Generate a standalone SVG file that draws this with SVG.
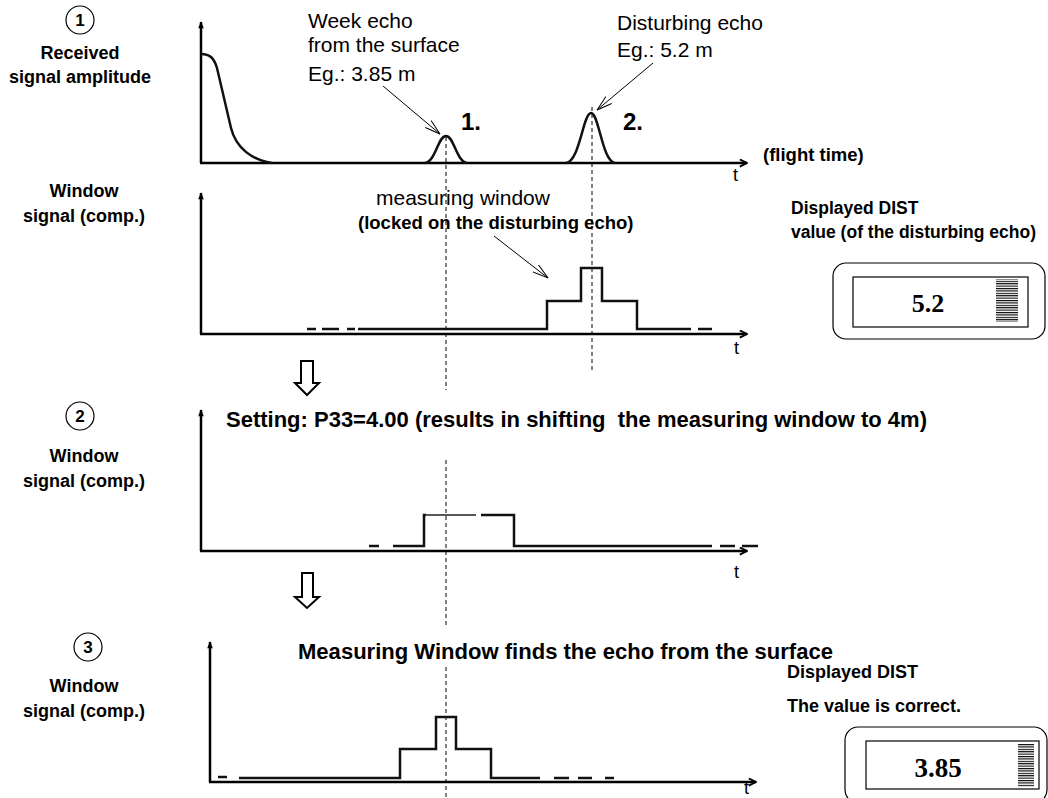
<svg xmlns="http://www.w3.org/2000/svg" width="1048" height="798" viewBox="0 0 1048 798">
<style>
.ax{stroke:#000;stroke-width:2.5;fill:none}
.sig{stroke:#111;stroke-width:2.5;fill:none;stroke-linejoin:miter}
.thin{stroke:#222;stroke-width:1.5;fill:none}
.dash{stroke:#000;stroke-width:1;stroke-dasharray:4 3;fill:none}
.ann{stroke:#000;stroke-width:1;fill:none}
.blk{stroke:#000;stroke-width:2;fill:#fff;stroke-linejoin:miter}
.box{stroke:#000;stroke-width:1.2;fill:#fff}
.lbl{font-family:"Liberation Sans",Arial,sans-serif;font-weight:bold;font-size:18px;text-anchor:middle;fill:#000}
.b{font-family:"Liberation Sans",Arial,sans-serif;font-weight:bold;fill:#000}
.r{font-family:"Liberation Sans",Arial,sans-serif;font-size:21px;fill:#000}
.t{font-family:"Liberation Sans",Arial,sans-serif;font-size:18px;fill:#000}
.num{font-family:"Liberation Serif","Times New Roman",serif;font-weight:bold;text-anchor:middle;fill:#000}
.circ{stroke:#000;stroke-width:1.2;fill:#fff}
</style>
<defs>
<marker id="ya" viewBox="0 0 10 10" refX="9" refY="5" markerWidth="10" markerHeight="7" markerUnits="userSpaceOnUse" orient="auto"><path d="M0,1 L10,5 L0,9 Z" fill="#000"/></marker>
<marker id="xa" viewBox="0 0 10 10" refX="9" refY="5" markerWidth="9" markerHeight="9" markerUnits="userSpaceOnUse" orient="auto"><path d="M1,1 L9,5 L1,9" fill="none" stroke="#000" stroke-width="2"/></marker>
<marker id="oa" viewBox="0 0 16 10" refX="15.5" refY="5" markerWidth="16" markerHeight="10" markerUnits="userSpaceOnUse" orient="auto"><path d="M0,0.5 L15.5,5 L0,9.5" fill="none" stroke="#000" stroke-width="1"/></marker>
<pattern id="stripes" patternUnits="userSpaceOnUse" width="4" height="2.4"><rect width="4" height="1.1" fill="#000"/></pattern>
</defs>

<g id="connectors">
<path class="dash" d="M446,137 V390 M446,460 V625 M446,667 V797"/>
<path class="dash" d="M592,107 V372"/>
<path class="ann" d="M383,86 L440,134" marker-end="url(#oa)"/>
<path class="ann" d="M653,63 L597,110" marker-end="url(#oa)"/>
<path class="ann" d="M494,236 L548,278" marker-end="url(#oa)"/>
<path class="blk" d="M301,361 H313 V383 H319 L307,395 L295,383 H301 Z"/>
<path class="blk" d="M302,573 H313 V597 H319 L307,608 L295,597 H302 Z"/>
</g>

<g id="sec1-label">
<circle class="circ" cx="80" cy="20" r="14"/>
<text class="b" x="80" y="26" font-size="17" text-anchor="middle">1</text>
<text class="lbl" x="80" y="59">Received</text>
<text class="lbl" x="80" y="83">signal amplitude</text>
</g>

<g id="graph1">
<line class="ax" x1="201" y1="163" x2="201" y2="22" marker-end="url(#ya)"/>
<line class="ax" x1="200" y1="163" x2="747" y2="163" marker-end="url(#xa)"/>
<path class="sig" d="M201,54 C210,54 214,58 217,68 L231,128 C236,148 252,160 272,163"/>
<path class="sig" d="M425,163 C436,161 438,136 446,136 C454,136 456,161 467,163"/>
<path class="sig" d="M566,163 C580,161 583,113 591,113 C599,113 602,161 615,163"/>
<text class="t" x="733" y="181">t</text>
<text class="r" x="308" y="28">Week echo</text>
<text class="r" x="308" y="52">from the surface</text>
<text class="r" x="308" y="81">Eg.: 3.85 m</text>
<text class="r" x="617" y="30">Disturbing echo</text>
<text class="r" x="617" y="57">Eg.: 5.2 m</text>
<text class="b" x="461" y="130" font-size="24">1.</text>
<text class="b" x="623" y="130" font-size="24">2.</text>
<text class="b" x="763" y="161" font-size="18.5">(flight time)</text>
</g>

<g id="sec1-window-label">
<text class="lbl" x="84" y="197">Window</text>
<text class="lbl" x="84" y="222">signal (comp.)</text>
</g>

<g id="graph2">
<line class="ax" x1="201" y1="334" x2="201" y2="193" marker-end="url(#ya)"/>
<line class="ax" x1="200" y1="334" x2="747" y2="334" marker-end="url(#xa)"/>
<path class="sig" d="M307,329 H316 M322,329 H339 M347,329 H355 M712,329 H698"/>
<path class="sig" d="M358,329 H547 V301 H581 V268 H602 V301 H637 V329 H691"/>
<text class="t" x="734" y="354">t</text>
<text class="r" x="376" y="205">measuring window</text>
<text class="b" x="358" y="229" font-size="18.5">(locked on the disturbing echo)</text>
</g>

<g id="display1">
<text class="b" x="791" y="214" font-size="17.5">Displayed DIST</text>
<text class="b" x="791" y="238" font-size="17.5">value (of the disturbing echo)</text>
<rect class="box" x="833" y="263" width="212" height="76" rx="13"/>
<rect class="box" x="853" y="277" width="175" height="50"/>
<rect x="996" y="279" width="22" height="43" fill="url(#stripes)"/>
<text class="num" x="928" y="312" font-size="26">5.2</text>
</g>

<g id="sec2-label">
<circle class="circ" cx="80" cy="416" r="14"/>
<text class="b" x="80" y="422" font-size="17" text-anchor="middle">2</text>
<text class="lbl" x="84" y="462">Window</text>
<text class="lbl" x="84" y="487">signal (comp.)</text>
</g>

<g id="graph3">
<text class="b" x="226" y="427" font-size="22" style="white-space:pre" textLength="701" lengthAdjust="spacingAndGlyphs">Setting: P33=4.00 (results in shifting  the measuring window to 4m)</text>
<line class="ax" x1="201" y1="551" x2="201" y2="410" marker-end="url(#ya)"/>
<line class="ax" x1="200" y1="551" x2="747" y2="551" marker-end="url(#xa)"/>
<path class="sig" d="M369,546 H379 M720,546 H735 M742,546 H758"/>
<path class="sig" d="M393,546 H424 V515 H426"/>
<path class="thin" d="M425,515 H476"/>
<path class="sig" d="M481,515 H514 V546 H712"/>
<text class="t" x="734" y="578">t</text>
</g>

<g id="sec3-label">
<circle class="circ" cx="88" cy="647" r="14"/>
<text class="b" x="88" y="653" font-size="17" text-anchor="middle">3</text>
<text class="lbl" x="84" y="692">Window</text>
<text class="lbl" x="84" y="717">signal (comp.)</text>
</g>

<g id="graph4">
<text class="b" x="298" y="659" font-size="22" textLength="535" lengthAdjust="spacingAndGlyphs">Measuring Window finds the echo from the surface</text>
<line class="ax" x1="210" y1="782" x2="210" y2="642" marker-end="url(#ya)"/>
<line class="ax" x1="209" y1="782" x2="756" y2="782" marker-end="url(#xa)"/>
<path class="sig" d="M218,777 H227 M554,778 H569 M578,778 H592 M605,778 H614"/>
<path class="sig" d="M239,778 H400 V749 H436 V717 H456 V749 H491 V778 H540"/>
<text class="t" x="744" y="794" font-size="15">t</text>
</g>

<g id="display2">
<text class="b" x="787" y="678" font-size="18">Displayed DIST</text>
<text class="b" x="787" y="712" font-size="18">The value is correct.</text>
<rect class="box" x="845" y="727" width="202" height="76" rx="13"/>
<rect class="box" x="866" y="741" width="173" height="48"/>
<rect x="1018" y="744" width="16" height="43" fill="url(#stripes)"/>
<text class="num" x="938" y="777" font-size="27">3.85</text>
</g>
</svg>
